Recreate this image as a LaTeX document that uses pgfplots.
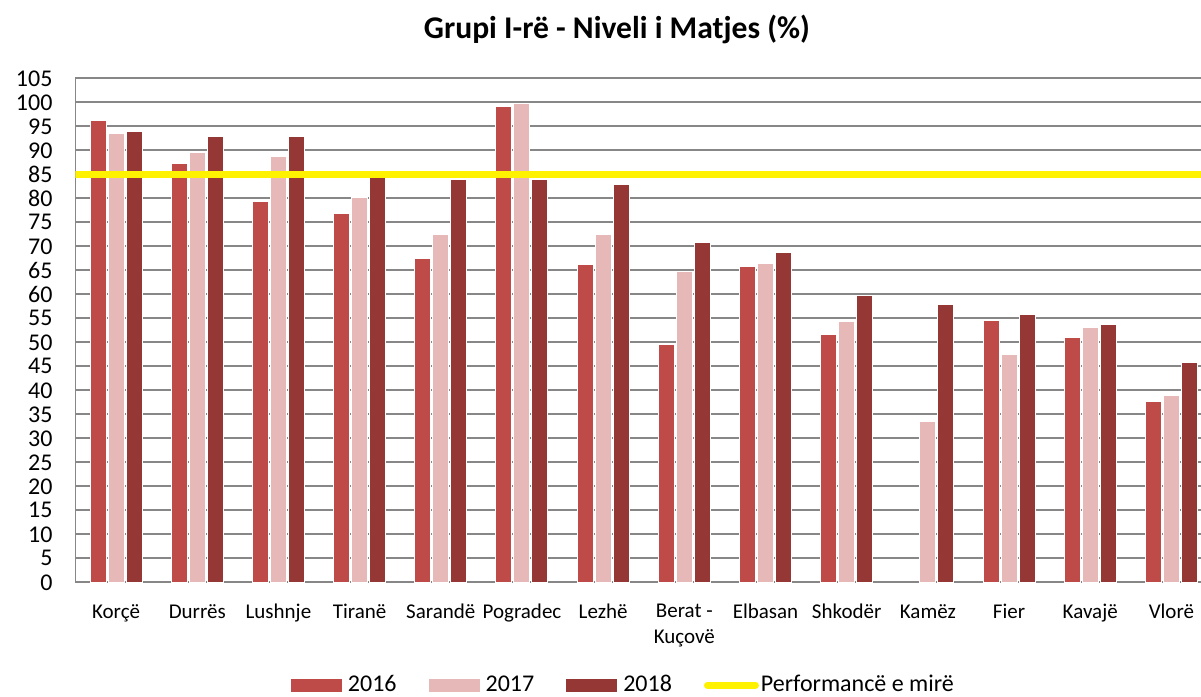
\documentclass[border=0pt]{standalone}
\usepackage{fontspec}
\setmainfont{Carlito}
\usepackage{pgfplots}
\pgfplotsset{compat=1.18}

\definecolor{c2016}{HTML}{BE4B48}
\definecolor{c2017}{HTML}{E6B9B8}
\definecolor{c2018}{HTML}{953735}
\definecolor{gridgray}{HTML}{878787}

\begin{document}
\begin{tikzpicture}
\node[font=\bfseries\fontsize{15.8}{18}\selectfont] at (308.5pt,-14.5pt) {Grupi I-rë - Niveli i Matjes (\%)};
\begin{axis}[
  at={(37.75pt,-291.15pt)}, anchor=south west,
  scale only axis,
  width=568.25pt, height=252pt,
  ybar=1pt, bar width=8pt,
  xmin=-0.5, xmax=13.5, ymin=0, ymax=105,
  ytick={0,5,...,105},
  xtick={0,...,13},
  xticklabels={Korçë,Durrës,Lushnje,Tiranë,Sarandë,Pogradec,Lezhë,{Berat -\\Kuçovë},Elbasan,Shkodër,Kamëz,Fier,Kavajë,Vlorë},
  xticklabel style={align=center, font=\fontsize{10.5}{13}\selectfont, anchor=north, yshift=-7.5pt},
  yticklabel style={font=\fontsize{12}{12}\selectfont, xshift=-8pt},
  /pgf/number format/assume math mode=true,
  major tick length=0pt,
  ymajorgrids,
  grid style={line width=1pt, draw=gridgray},
  axis x line*=bottom, axis y line*=left,
  axis line style={-, draw=gridgray, line width=0.6pt},
  legend columns=4,
  legend style={at={(0.4830,-0.2040)}, anchor=center, draw=none, fill=none,
    font=\fontsize{12}{14}\selectfont,
    /tikz/every even column/.append style={column sep=14pt},
    /tikz/every odd column/.append style={column sep=1pt}},
]
\addplot[fill=c2016, draw=white, line width=0.5pt,
  legend image code/.code={\fill[c2016] (0pt,-3pt) rectangle (25pt,3pt);}]
coordinates {(0,96.3) (1,87.2) (2,79.4) (3,76.9) (4,67.4) (5,99.1) (6,66.3) (7,49.6) (8,65.8) (9,51.6) (11,54.6) (12,50.9) (13,37.6)};
\addlegendentry{2016}
\addplot[fill=c2017, draw=white, line width=0.5pt,
  legend image code/.code={\fill[c2017] (0pt,-3pt) rectangle (25pt,3pt);}]
coordinates {(0,93.5) (1,89.6) (2,88.7) (3,80.2) (4,72.5) (5,99.8) (6,72.5) (7,64.8) (8,66.4) (9,54.3) (10,33.6) (11,47.5) (12,53.1) (13,39.0)};
\addlegendentry{2017}
\addplot[fill=c2018, draw=white, line width=0.5pt,
  legend image code/.code={\fill[c2018] (0pt,-3pt) rectangle (25pt,3pt);}]
coordinates {(0,93.9) (1,92.8) (2,92.8) (3,85.8) (4,84.0) (5,83.9) (6,82.9) (7,70.8) (8,68.8) (9,59.8) (10,57.8) (11,55.8) (12,53.8) (13,45.8)};
\addlegendentry{2018}
\addplot[sharp plot, draw=yellow, line width=3.5pt,
  legend image code/.code={\draw[yellow, line width=3.5pt, line cap=round] (1.75pt,0pt) -- (25.75pt,0pt);}]
coordinates {(-0.5,85) (13.5,85)};
\addlegendentry{\hspace{-2pt}Performancë e mirë}
\end{axis}
\pgfresetboundingbox
\path[use as bounding box] (0,0) rectangle (600.5pt,-348.5pt);
\end{tikzpicture}
\end{document}
